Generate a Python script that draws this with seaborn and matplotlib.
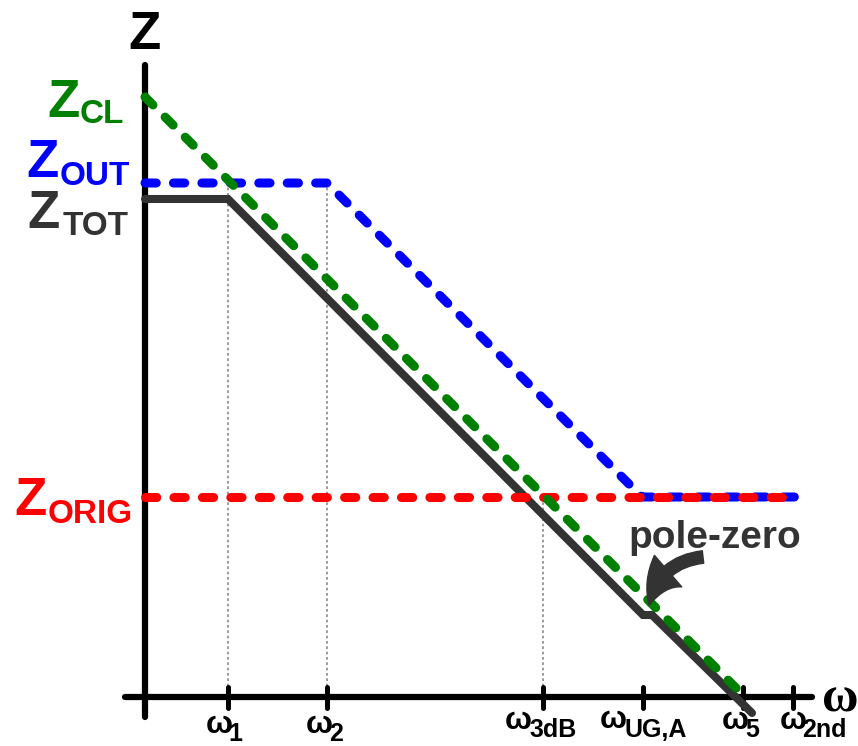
import matplotlib
matplotlib.use('Agg')
import matplotlib.pyplot as plt
import seaborn as sns
import pandas as pd
from matplotlib.patches import FancyArrowPatch

# ---------------- data ----------------
tick_subs = ['1', '2', '3dB', 'UG,A', '5', '2nd']
tick_pos = [0.83, 1.82, 3.98, 4.98, 5.98, 6.48]

ztot_x = [0.0, 0.83, 4.98, 5.07, 6.07]
ztot_y = [4.98, 4.98, 0.82, 0.82, -0.16]
zout_x = [0.0, 1.82, 4.97, 6.52]
zout_y = [5.14, 5.14, 2.0, 2.0]
zcl_x = [0.0, 6.0]
zcl_y = [6.0, 0.0]
zorig_x = [0.0, 6.52]
zorig_y = [2.0, 2.0]
guide_x = [0.83, 1.82, 3.98]
guide_top = [5.14, 5.14, 2.0]

GRAY = '#333333'
GREEN = '#008000'
BLUE = '#0000ff'
RED = '#ff0000'

sns.set_theme(style='white')
plt.rcParams['font.family'] = ['Liberation Sans', 'DejaVu Sans']

fig = plt.figure(figsize=(8.58, 7.46), dpi=100)
ax = fig.add_axes([0, 0, 1, 1])
ax.set_xlim(-1.45, 7.13)
ax.set_ylim(-0.49, 6.97)
ax.axis('off')


def X(px):
    return (px - 145) / 100.0


def Y(py):
    return (697 - py) / 100.0


# guides
ax.vlines(guide_x, 0, guide_top, colors='#8a8a8a', lw=1.2,
          linestyles=(0, (1.6, 1.6)), zorder=1)

# axes
ax.plot([X(125), X(812)], [0, 0], color='black', lw=4.5,
        solid_capstyle='round', zorder=2)
ax.plot([0, 0], [Y(717), Y(65)], color='black', lw=4.5,
        solid_capstyle='round', zorder=2)
ax.vlines(tick_pos, -0.105, 0.105, colors='black', lw=3.6, zorder=2,
          capstyle='round')

dash = (0, (1.25, 1.9))
df_tot = pd.DataFrame({'x': ztot_x, 'y': ztot_y})
sns.lineplot(data=df_tot, x='x', y='y', ax=ax, color=GRAY, lw=5.8,
             sort=False, estimator=None, solid_capstyle='round',
             solid_joinstyle='miter', zorder=3)
df_out = pd.DataFrame({'x': zout_x, 'y': zout_y})
sns.lineplot(data=df_out, x='x', y='y', ax=ax, color=BLUE, lw=6.5,
             sort=False, estimator=None, linestyle=dash,
             dash_capstyle='round', zorder=4)
df_orig = pd.DataFrame({'x': zorig_x, 'y': zorig_y})
sns.lineplot(data=df_orig, x='x', y='y', ax=ax, color=RED, lw=6.5,
             sort=False, estimator=None, linestyle=dash,
             dash_capstyle='round', zorder=5)
df_cl = pd.DataFrame({'x': zcl_x, 'y': zcl_y})
sns.lineplot(data=df_cl, x='x', y='y', ax=ax, color=GREEN, lw=6.5,
             sort=False, estimator=None, linestyle=dash,
             dash_capstyle='round', zorder=6)

# ---------------- labels ----------------
B = 'bold'
ax.text(X(144), Y(49), 'Z', fontsize=38, fontweight=B, color='black',
        ha='center', va='baseline')


def zlabel(left, base, sub_left, sub_base, sub, color):
    ax.text(X(left), Y(base), 'Z', fontsize=38, fontweight=B, color=color,
            ha='left', va='baseline')
    ax.text(X(sub_left), Y(sub_base), sub, fontsize=24, fontweight=B,
            color=color, ha='left', va='baseline')


zlabel(47, 117, 80, 123, 'CL', GREEN)
zlabel(26, 177, 60, 185, 'OUT', BLUE)
zlabel(27, 228, 63, 235, 'TOT', GRAY)
zlabel(14, 515, 48, 523, 'ORIG', RED)

omega_left = [206, 306, 505, 600, 722, 780]
omega_base = [733, 733, 729, 728, 729, 729]
sub_left = [228, 329, 529, 625, 745, 802]
sub_base = [741, 741, 737, 737, 737, 737]
for ol, ob, sl, sb, s in zip(omega_left, omega_base, sub_left, sub_base, tick_subs):
    ax.text(X(ol), Y(ob), '\u03c9', fontsize=23, fontweight=B, color='black',
            ha='left', va='baseline')
    ax.text(X(sl), Y(sb), s, fontsize=18, fontweight=B, color='black',
            ha='left', va='baseline')

ax.text(X(822), Y(712), '\u03c9', fontsize=36, fontweight=B, color='black',
        family=['Liberation Serif', 'DejaVu Serif'], ha='left', va='baseline')

ax.text(X(628), Y(548), 'pole-zero', fontsize=28, fontweight=B, color=GRAY,
        ha='left', va='baseline')

arrow = FancyArrowPatch(posA=(X(703), Y(557)), posB=(X(649), Y(605)),
                        arrowstyle='simple,head_length=1.4,head_width=1.5,tail_width=0.45',
                        connectionstyle='arc3,rad=0.35', mutation_scale=20,
                        color=GRAY, shrinkA=0, shrinkB=0, zorder=7)
ax.add_patch(arrow)

fig.savefig('out.png', dpi=100)
